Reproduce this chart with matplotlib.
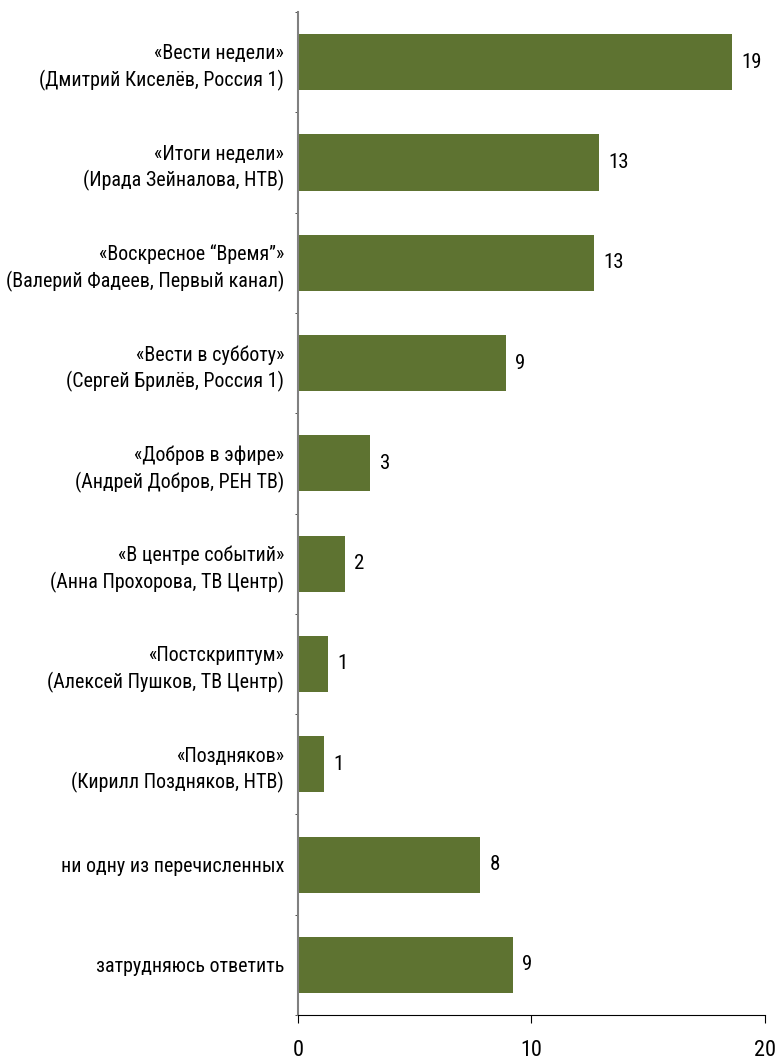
import numpy as np
import matplotlib.pyplot as plt
from matplotlib import font_manager

# pick a narrow font if we have one
names = set(f.name for f in font_manager.fontManager.ttflist)
fam = 'DejaVu Sans'
for cand in ['Liberation Sans Narrow', 'Roboto Condensed', 'Open Sans Condensed', 'Lato', 'Roboto']:
    if cand in names:
        fam = cand
        break
plt.rcParams['font.family'] = [fam, 'DejaVu Sans']

categories = [
    '«Вести недели»\n(Дмитрий Киселёв, Россия 1)',
    '«Итоги недели»\n(Ирада Зейналова, НТВ)',
    '«Воскресное “Время”»\n(Валерий Фадеев, Первый канал)',
    '«Вести в субботу»\n(Сергей Брилёв, Россия 1)',
    '«Добров в эфире»\n(Андрей Добров, РЕН ТВ)',
    '«В центре событий»\n(Анна Прохорова, ТВ Центр)',
    '«Постскриптум»\n(Алексей Пушков, ТВ Центр)',
    '«Поздняков»\n(Кирилл Поздняков, НТВ)',
    'ни одну из перечисленных',
    'затрудняюсь ответить',
]
values = [18.6, 12.9, 12.7, 8.9, 3.1, 2.0, 1.3, 1.1, 7.8, 9.2]
labels = ['19', '13', '13', '9', '3', '2', '1', '1', '8', '9']

fig = plt.figure(figsize=(7.79, 10.59), dpi=100)
ax = fig.add_axes([0.3825, 0.0415, 0.5992, 0.9472])

y = np.arange(len(categories))
ax.barh(y, values, height=0.56, color='#5e7331')
for yi, v, lab in zip(y, values, labels):
    ax.text(v + 0.4, yi, lab, va='center', ha='left', fontsize=15)

ax.set_ylim(len(categories) - 0.5, -0.5)
ax.set_xlim(0, 20)
ax.set_yticks(y)
ax.set_yticklabels(categories, fontsize=14.4, linespacing=1.4)
ax.set_yticks(np.arange(-0.5, len(categories), 1), minor=True)
ax.tick_params(axis='y', which='major', length=0, pad=10)
ax.tick_params(axis='y', which='minor', length=2, color='#333333')
ax.set_xticks([0, 10, 20])
ax.tick_params(axis='x', length=6, pad=12, labelsize=16)

for s in ['top', 'right']:
    ax.spines[s].set_visible(False)
ax.spines['left'].set_color('#808080')
ax.spines['left'].set_linewidth(1.5)
ax.spines['bottom'].set_color('black')

fig.savefig('out.png', dpi=100)
